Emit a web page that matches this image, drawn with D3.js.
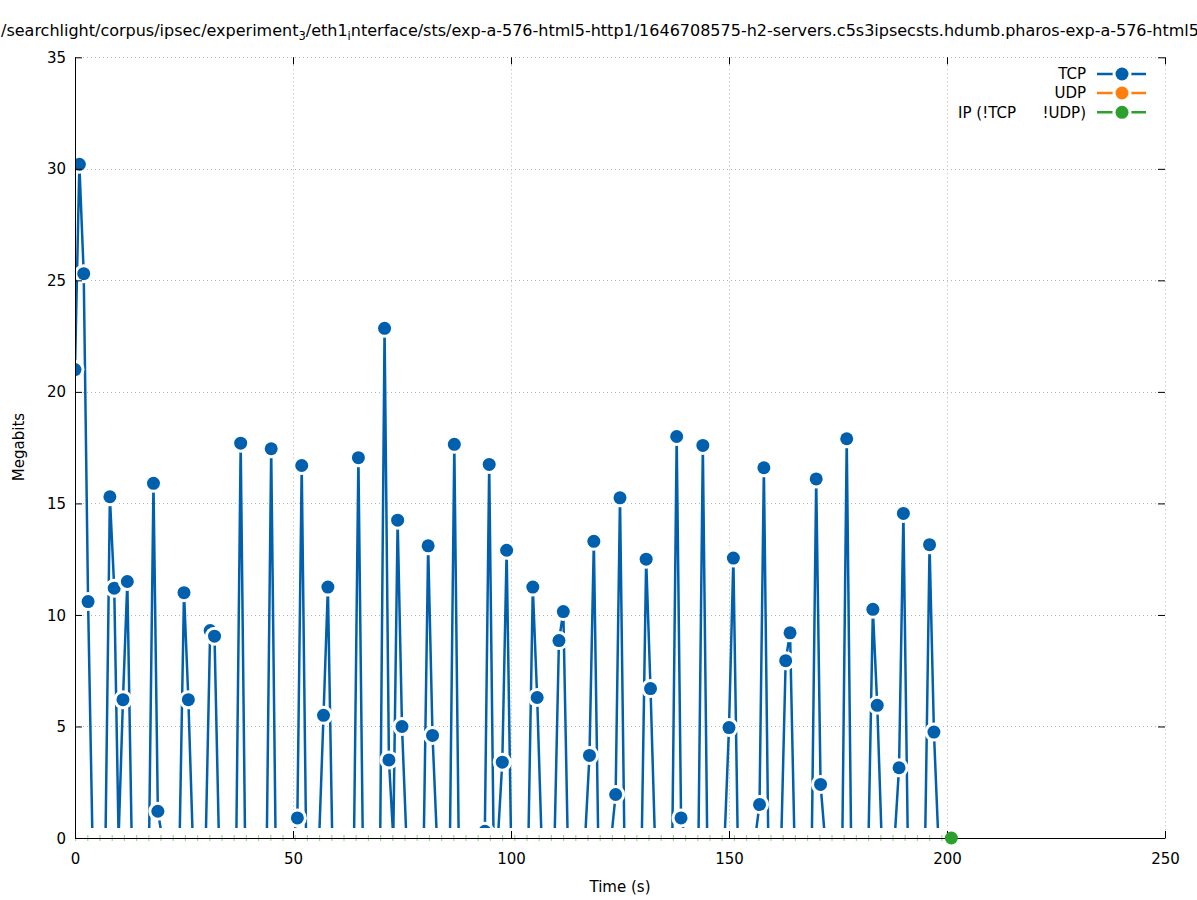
<!DOCTYPE html>
<html><head><meta charset="utf-8">
<script src="https://cdn.jsdelivr.net/npm/d3@7"></script>
<style>
body{margin:0;background:#fff}
text{font-family:"DejaVu Sans",sans-serif;fill:#000}
</style></head>
<body><svg id="c" width="1197" height="900"></svg>
<script>
// ---- data ----
const tcpTime = [0,1,2,3,4, 7,8,9,10,11,12,13, 17,18,19,20, 24,25,26,27, 30,31,32,33, 37,38,39, 44,45,46, 50,51,52,53, 56,57,58,59, 64,65,66, 70,71,72,73,74,75,76, 80,81,82,83, 86,87,88, 93,94,95,96,97,98,99,100, 104,105,106,107, 110,111,112,113, 117,118,119,120, 123,124,125,126, 130,131,132,133, 137,138,139,140, 143,144,145, 149,150,151,152, 156,157,158,159, 162,163,164,165, 169,170,171,172, 176,177,178, 182,183,184,185, 188,189,190,191, 195,196,197,198, 201];
const tcpMbits = [21.0,30.2,25.3,10.6,0, 0,15.3,11.2,0,6.2,11.5,0, 0,15.9,1.2,0, 0,11.0,6.2,0, 0,9.3,9.05,0, 0,17.7,0, 0,17.45,0, 0,0.9,16.7,0, 0,5.5,11.25,0, 0,17.05,0, 0,22.85,3.5,0,14.25,5.0,0, 0,13.1,4.6,0, 0,17.65,0, 0,0.3,16.75,0,0,3.4,12.9,0, 0,11.25,6.3,0, 0,8.85,10.15,0, 0,3.7,13.3,0, 0,1.95,15.25,0, 0,12.5,6.7,0, 0,18.0,0.9,0, 0,17.6,0, 0,4.95,12.55,0, 0,1.5,16.6,0, 0,7.95,9.2,0, 0,16.1,2.4,0, 0,17.9,0, 0,10.25,5.95,0, 0,3.15,14.55,0, 0,13.15,4.75,0, 0];
const udpTime = [0, 201];
const udpMbits = [0, 0];
const ipTime = [0, 201];
const ipMbits = [0, 0];
const xTicks = [0, 50, 100, 150, 200, 250];
const yTicks = [0, 5, 10, 15, 20, 25, 30, 35];
// legend names, split where the original shows a wide gap
const seriesNames = [["TCP"], ["UDP"], ["IP (!TCP", "  !UDP)"]];
const seriesColors = ["#0060ad", "#ff7f0e", "#2ca02c"];
const titleParts = [
  ["/searchlight/corpus/ipsec/experiment", false],
  ["3", true],
  ["/eth1", false],
  ["i", true],
  ["nterface/sts/exp-a-576-html5-http1/1646708575-h2-servers.c5s3ipsecsts.hdumb.pharos-exp-a-576-html5", false]
];
const titleTail = "-http1";

// ---- layout ----
const L = 75, R = 1165, T = 57.3, B = 838;
const svg = d3.select("#c");
const x = d3.scaleLinear().domain([0, 250]).range([L, R]);
const y = d3.scaleLinear().domain([0, 35]).range([B, T]);
const FS = 15;

svg.append("defs").append("clipPath").attr("id", "plot")
  .append("rect").attr("x", L).attr("y", T).attr("width", R - L).attr("height", B - T);

// grid
const grid = svg.append("g").attr("stroke", "#b4b4b4").attr("stroke-width", 1).attr("stroke-dasharray", "1,3");
grid.selectAll(".gx").data(xTicks).join("line")
  .attr("x1", d => Math.round(x(d)) + 0.5).attr("x2", d => Math.round(x(d)) + 0.5)
  .attr("y1", T).attr("y2", B);
grid.selectAll(".gy").data(yTicks).join("line")
  .attr("y1", d => Math.round(y(d)) + 0.5).attr("y2", d => Math.round(y(d)) + 0.5)
  .attr("x1", L).attr("x2", R);

// TCP series
const tcp = tcpTime.map((t, i) => ({t, v: tcpMbits[i]}));
const line = d3.line().x(d => x(d.t)).y(d => y(d.v));
const plot = svg.append("g").attr("clip-path", "url(#plot)");
plot.append("path").datum(tcp).attr("d", line)
  .attr("fill", "none").attr("stroke", seriesColors[0]).attr("stroke-width", 2.5).attr("stroke-linejoin", "miter");
tcp.filter(d => d.v > 0).forEach(d => {
  plot.append("circle").attr("cx", x(d.t)).attr("cy", y(d.v)).attr("r", 9.5).attr("fill", "#fff");
  plot.append("circle").attr("cx", x(d.t)).attr("cy", y(d.v)).attr("r", 6.5).attr("fill", seriesColors[0]);
});

// blanking band along zero (from point gaps of the zero series)
svg.append("rect").attr("x", L).attr("y", y(0) - 10).attr("width", R - L).attr("height", 13).attr("fill", "#fff");

// UDP / IP zero lines
const udp = udpTime.map((t, i) => ({t, v: udpMbits[i]}));
const ip = ipTime.map((t, i) => ({t, v: ipMbits[i]}));
svg.append("path").datum(udp).attr("d", line).attr("fill", "none")
  .attr("stroke", seriesColors[1]).attr("stroke-width", 1).attr("opacity", 0);
svg.append("path").datum(ip).attr("d", line).attr("fill", "none")
  .attr("stroke", seriesColors[2]).attr("stroke-width", 6).attr("stroke-opacity", 0.45)
  .attr("stroke-dasharray", "1.2,11");

// axes
const ax = svg.append("g").style("font-size", FS + "px");
const gL = ax.append("g").attr("transform", `translate(${L},0)`)
  .call(d3.axisLeft(y).tickValues(yTicks).tickSizeInner(-7).tickSizeOuter(0).tickPadding(9));
const gB = ax.append("g").attr("transform", `translate(0,${B})`)
  .call(d3.axisBottom(x).tickValues(xTicks).tickSizeInner(-7).tickSizeOuter(0).tickPadding(15));
const gR = ax.append("g").attr("transform", `translate(${R},0)`)
  .call(d3.axisRight(y).tickValues(yTicks).tickSizeInner(-7).tickSizeOuter(0).tickFormat(""));
const gT = ax.append("g").attr("transform", `translate(0,${T})`)
  .call(d3.axisTop(x).tickValues(xTicks).tickSizeInner(-7).tickSizeOuter(0).tickFormat(""));
[gL, gB, gR, gT].forEach(g => {
  g.selectAll("text").attr("fill", "#000").style("font-family", '"DejaVu Sans",sans-serif').style("font-size", FS + "px");
  g.selectAll("line").attr("stroke", "#000");
  g.select(".domain").attr("stroke", "#000");
});
gR.select(".domain").remove();
gT.select(".domain").remove();
gL.selectAll("text").attr("dy", "0.34em");

// IP last marker
const ipLast = ip[ip.length - 1];
svg.append("circle").attr("cx", x(ipLast.t)).attr("cy", y(ipLast.v)).attr("r", 6.5).attr("fill", seriesColors[2]);

// axis labels
svg.append("text").attr("x", 620).attr("y", 892).attr("text-anchor", "middle").style("font-size", FS + "px").text("Time (s)");
svg.append("text").attr("transform", "translate(23.5,447) rotate(-90)").attr("text-anchor", "middle").style("font-size", FS + "px").text("Megabits");

// legend
const legY = [74, 93, 112.3];
seriesNames.forEach((parts, i) => {
  const g = svg.append("g");
  const t = g.append("text").attr("x", 1086).attr("y", legY[i]).attr("dy", "0.35em").attr("text-anchor", "end")
    .style("font-size", FS + "px").style("white-space", "pre").attr("xml:space", "preserve");
  parts.forEach((p, k) => { const s = t.append("tspan").text(p); if (k > 0) s.attr("dx", 17); });
  g.append("line").attr("x1", 1097).attr("x2", 1146).attr("y1", legY[i]).attr("y2", legY[i])
    .attr("stroke", seriesColors[i]).attr("stroke-width", 2.5);
  g.append("circle").attr("cx", 1122).attr("cy", legY[i]).attr("r", 9.5).attr("fill", "#fff");
  g.append("circle").attr("cx", 1122).attr("cy", legY[i]).attr("r", 6.5).attr("fill", seriesColors[i]);
});

// title, fitted to the visible width
const title = svg.append("text").attr("x", 1).attr("y", 36);
function buildTitle(fs) {
  title.selectAll("*").remove();
  title.style("font-size", fs + "px");
  titleParts.forEach(([s, sub], i) => {
    const ts = title.append("tspan").text(s);
    if (sub) ts.style("font-size", (fs * 0.72) + "px").attr("dy", fs * 0.28);
    else if (i > 0 && titleParts[i - 1][1]) ts.attr("dy", -fs * 0.28);
  });
}
buildTitle(16);
const len = title.node().getComputedTextLength();
buildTitle(16 * 1199 / len);
title.append("tspan").text(titleTail);
</script>
</body></html>
